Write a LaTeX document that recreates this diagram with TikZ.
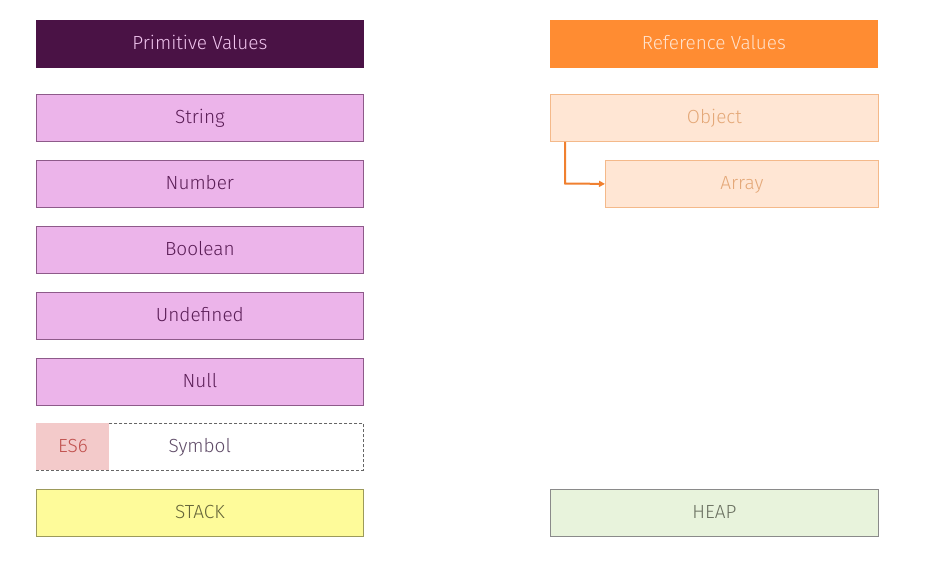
\documentclass[tikz,border=0pt]{standalone}
\usepackage{fontspec}
\setmainfont{Fira Sans}[UprightFont={* Light}]
\usetikzlibrary{arrows.meta}
\definecolor{primdark}{HTML}{4A1245}
\definecolor{primtxt}{HTML}{F0C4EE}
\definecolor{primfill}{HTML}{ECB4EA}
\definecolor{primline}{HTML}{8E5A8A}
\definecolor{primtext}{HTML}{5A1D56}
\definecolor{refdark}{HTML}{FF8C32}
\definecolor{reftxt}{HTML}{FFE2CC}
\definecolor{reffill}{HTML}{FFE6D4}
\definecolor{refline}{HTML}{F4B98A}
\definecolor{reftext}{HTML}{E4A878}
\definecolor{arrowc}{HTML}{F08030}
\definecolor{esfill}{HTML}{F3CACA}
\definecolor{estext}{HTML}{C0504D}
\definecolor{symtext}{HTML}{5E4A66}
\definecolor{stackfill}{HTML}{FEFB9A}
\definecolor{stackline}{HTML}{9C9A5A}
\definecolor{stacktext}{HTML}{66653A}
\definecolor{heapfill}{HTML}{E8F3DC}
\definecolor{heapline}{HTML}{8A8A8A}
\definecolor{heaptext}{HTML}{6A7060}
\tikzset{
  x=1pt, y=-1pt,
  box/.style={draw, line width=0.8pt, minimum height=47pt, inner sep=0pt,
    text height=14.5pt, text depth=2.5pt,
    font=\fontsize{19}{22}\selectfont, anchor=north west},
  wide/.style={box, minimum width=327pt},
  primhead/.style={wide, fill=primdark, draw=primdark, text=primtxt},
  primbox/.style={wide, fill=primfill, draw=primline, text=primtext},
  refhead/.style={wide, fill=refdark, draw=refdark, text=reftxt},
  refbox/.style={box, fill=reffill, draw=refline, text=reftext},
}
\begin{document}
\begin{tikzpicture}
\useasboundingbox (0,0) rectangle (927,562);
\node[primhead] (prim) at (36,19.5) {Primitive Values};
\node[primbox] (string) at (36,94) {String};
\node[primbox] (number) at (36,160) {Number};
\node[primbox] (boolean) at (36,226) {Boolean};
\node[primbox] (undef) at (36,292) {Undefined};
\node[primbox] (null) at (36,357.5) {Null};
% Symbol row
\node[wide, draw=gray!80!black, line width=0.5pt, densely dashed, text=symtext] (symbol) at (36,423) {Symbol};
\node[box, minimum width=73pt, fill=esfill, draw=none, text=estext] (es6) at (36,423) {ES6};
\node[wide, fill=stackfill, draw=stackline, text=stacktext] (stack) at (36,489) {STACK};
% reference side
\node[refhead] (ref) at (550,19.5) {Reference Values};
\node[refbox, minimum width=328pt] (object) at (550,94) {Object};
\node[refbox, minimum width=273pt] (array) at (605,160) {Array};
\coordinate (bend) at (565,183.5);
\draw[arrowc, line width=2pt, -{Triangle[length=6pt,width=6pt]}]
  (object.south west -| bend) -- (bend) -- (array.west);
\node[wide, minimum width=328pt, fill=heapfill, draw=heapline, text=heaptext] (heap) at (550,489) {HEAP};
\end{tikzpicture}
\end{document}
